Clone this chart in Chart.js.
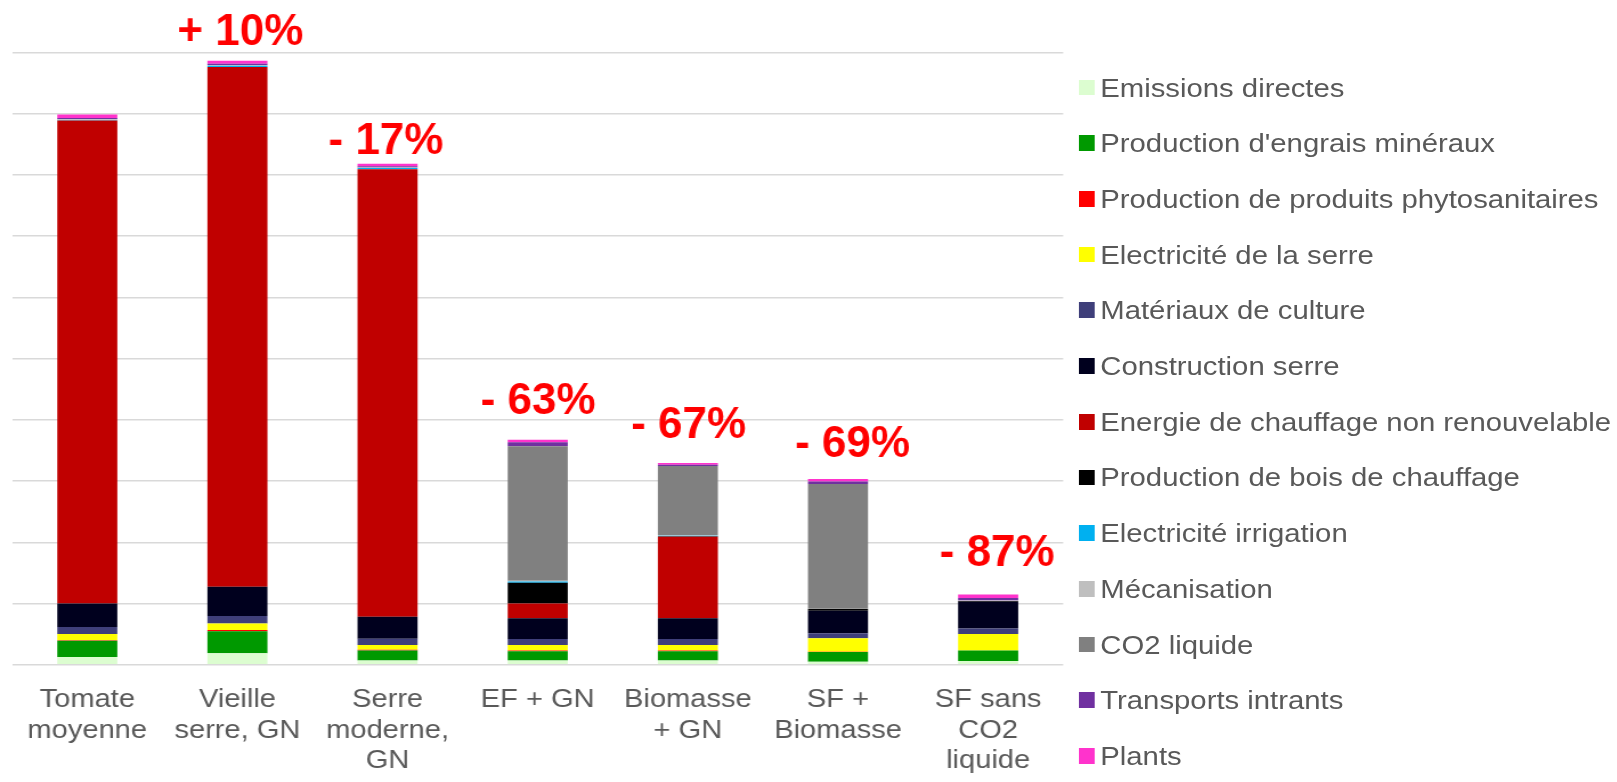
<!DOCTYPE html>
<html lang="fr">
<head>
<meta charset="utf-8">
<script src="https://cdn.jsdelivr.net/npm/chart.js@4.4.0/dist/chart.umd.min.js"></script>
<style>
  html, body { margin: 0; padding: 0; background: #fff; overflow: hidden; }
  /* le graphique d'origine est étiré horizontalement */
  #wrap { position: absolute; left: 0; top: 0; width: 1418px; height: 782px; transform: scaleX(1.1403); transform-origin: 0 0; }
  #legend { position: absolute; left: 0; top: 0; font-family: "Liberation Sans", Arial, sans-serif; font-size: 25.7px; color: #595959; }
  .item { position: absolute; white-space: nowrap; line-height: 30px; }
  .box { position: absolute; width: 13.5px; height: 15.7px; }
</style>
</head>
<body>
<div id="wrap">
  <canvas id="barChart"></canvas>
  <div id="legend"></div>
</div>
<script>
// Categories et ecarts par rapport a "Vieille serre, GN"
var categories = [["Tomate", "moyenne"], ["Vieille", "serre, GN"], ["Serre", "moderne,", "GN"], ["EF + GN"], ["Biomasse", "+ GN"], ["SF +", "Biomasse"], ["SF sans", "CO2", "liquide"]];
var ecarts = ["", "+ 10%", "- 17%", "- 63%", "- 67%", "- 69%", "- 87%"];

// Valeurs (1 = un intervalle de grille)
var emissionsDirectes   = [0.125, 0.185, 0.07, 0.07, 0.07, 0.05, 0.06];
var engraisMineraux     = [0.265, 0.36, 0.163, 0.15, 0.15, 0.157, 0.17];
var phytosanitaires     = [0.01, 0.02, 0.01, 0.01, 0.01, 0.005, 0];
var electriciteSerre    = [0.1, 0.11, 0.08, 0.09, 0.09, 0.22, 0.27];
var materiauxCulture    = [0.114, 0.12, 0.1, 0.1, 0.1, 0.08, 0.09];
var constructionSerre   = [0.385, 0.48, 0.36, 0.34, 0.34, 0.37, 0.44];
var energieChauffage    = [7.89, 8.49, 7.31, 0.24, 1.33, 0, 0];
var boisChauffage       = [0, 0, 0, 0.34, 0.01, 0.03, 0.01];
var electriciteIrrig    = [0.01, 0.02, 0.02, 0.02, 0.005, 0, 0];
var mecanisation        = [0.01, 0.01, 0.01, 0.01, 0.01, 0.01, 0.01];
var co2Liquide          = [0, 0, 0, 2.2, 1.13, 2.03, 0];
var transportsIntrants  = [0.02, 0.02, 0.02, 0.065, 0.02, 0.04, 0.04];
var plants              = [0.06, 0.05, 0.04, 0.04, 0.03, 0.04, 0.055];

var series = [
    { label: "Emissions directes", color: "#dcfdd0", data: emissionsDirectes },
    { label: "Production d'engrais minéraux", color: "#009900", data: engraisMineraux },
    { label: "Production de produits phytosanitaires", color: "#ff0000", data: phytosanitaires },
    { label: "Electricité de la serre", color: "#ffff00", data: electriciteSerre },
    { label: "Matériaux de culture", color: "#3f3f7a", data: materiauxCulture },
    { label: "Construction serre", color: "#00001e", data: constructionSerre },
    { label: "Energie de chauffage non renouvelable", color: "#c00000", data: energieChauffage },
    { label: "Production de bois de chauffage", color: "#000000", data: boisChauffage },
    { label: "Electricité irrigation", color: "#00b0f0", data: electriciteIrrig },
    { label: "Mécanisation", color: "#bfbfbf", data: mecanisation },
    { label: "CO2 liquide", color: "#808080", data: co2Liquide },
    { label: "Transports intrants", color: "#7030a0", data: transportsIntrants },
    { label: "Plants", color: "#ff33cc", data: plants }
];

// placement des etiquettes rouges (pixels ecran)
var STRETCH = 1.1403;
var labelDx = [0, 3, -1.6, 0.3, 0.8, 14.5, 9];
var labelGap = [0, 15.5, 9.7, 26, 25, 22, 29];

var pourcentPlugin = {
    id: 'pourcent',
    afterDatasetsDraw: function (chart) {
        var ctx = chart.ctx, xs = chart.scales.x, ys = chart.scales.y;
        ctx.save();
        ctx.fillStyle = '#ff0000';
        ctx.font = 'bold 44px "Liberation Sans", Arial, sans-serif';
        ctx.textAlign = 'center';
        ctx.textBaseline = 'alphabetic';
        ecarts.forEach(function (txt, i) {
            if (!txt) return;
            var total = 0;
            chart.data.datasets.forEach(function (ds) { total += ds.data[i]; });
            ctx.save();
            ctx.translate(xs.getPixelForValue(i) + labelDx[i] / STRETCH, ys.getPixelForValue(total) - labelGap[i]);
            ctx.scale(1 / STRETCH, 1);
            ctx.fillText(txt, 0, 0);
            ctx.restore();
        });
        ctx.restore();
    }
};

Chart.defaults.font.family = '"Liberation Sans", Arial, sans-serif';

var barData = {
    labels: categories,
    datasets: series.map(function (s) {
        return { label: s.label, data: s.data, backgroundColor: s.color, borderWidth: 0 };
    })
};

var barOptions = {
    responsive: true,
    maintainAspectRatio: false,
    animation: false,
    layout: { padding: { left: 10.7, right: 485.6, top: 52.5, bottom: 0 } },
    plugins: { legend: { display: false }, tooltip: { enabled: false } },
    datasets: { bar: { categoryPercentage: 1, barPercentage: 0.4 } },
    scales: {
        x: {
            stacked: true,
            grid: { display: false, drawTicks: false },
            border: { display: false },
            ticks: { color: '#595959', font: { size: 25.5 }, padding: 20, maxRotation: 0, autoSkip: false },
            afterFit: function (scale) { scale.height = 117.3; }
        },
        y: {
            stacked: true,
            min: 0,
            max: 10,
            ticks: { display: false, stepSize: 1 },
            grid: { color: '#d9d9d9', lineWidth: 1.5, drawTicks: false },
            border: { display: false }
        }
    }
};

var ctx = document.getElementById("barChart").getContext("2d");
var chart = new Chart(ctx, { type: 'bar', data: barData, options: barOptions, plugins: [pourcentPlugin] });

// legende HTML a droite
var legend = document.getElementById('legend');
chart.data.datasets.forEach(function (ds, i) {
    var cy = 87.5 + 55.7 * i;
    var box = document.createElement('div');
    box.className = 'box';
    box.style.left = '946px';
    box.style.top = (cy - 7.85) + 'px';
    box.style.background = ds.backgroundColor;
    var item = document.createElement('div');
    item.className = 'item';
    item.style.left = '964.9px';
    item.style.top = (cy - 15) + 'px';
    item.textContent = ds.label;
    legend.appendChild(box);
    legend.appendChild(item);
});
</script>
</body>
</html>
